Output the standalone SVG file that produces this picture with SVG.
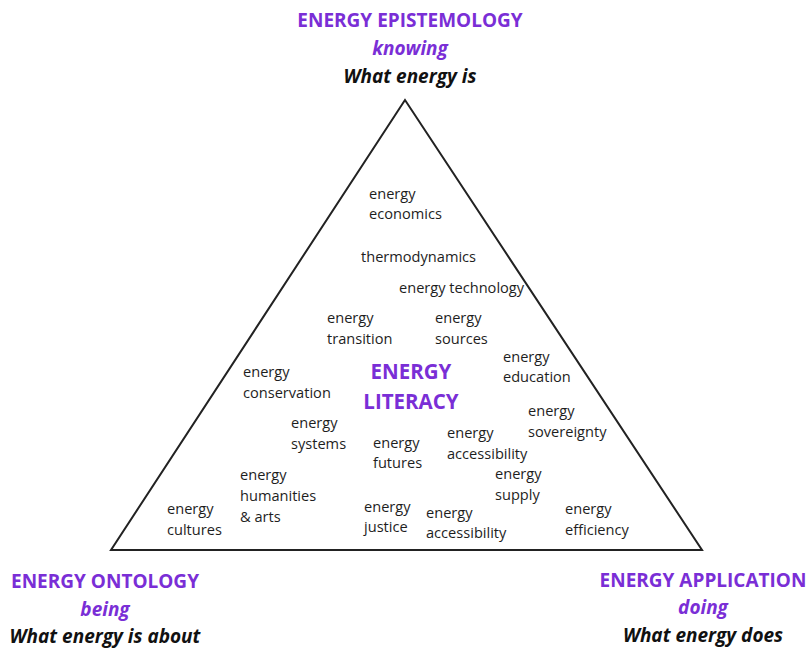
<svg xmlns="http://www.w3.org/2000/svg" width="810" height="648" viewBox="0 0 810 648">
  <style>
    .t { font-family: "Open Sans", "Noto Sans", sans-serif; font-size: 14.6px; fill: #1e1e1e; }
    .h { font-family: "Open Sans", "Noto Sans", sans-serif; font-size: 19px; font-weight: bold; fill: #7a2ed6; text-anchor: middle; }
    .hi { font-family: "Open Sans", "Noto Sans", sans-serif; font-size: 19px; font-weight: bold; font-style: italic; fill: #7a2ed6; text-anchor: middle; }
    .hs { font-family: "Open Sans", "Noto Sans", sans-serif; font-size: 19px; font-weight: bold; font-style: italic; fill: #111; text-anchor: middle; }
    .core { font-family: "Open Sans", "Noto Sans", sans-serif; font-size: 20.5px; font-weight: bold; fill: #7a2ed6; text-anchor: middle; }
  </style>
  <rect width="810" height="648" fill="#fff"/>

  <!-- triangle frame -->
  <g id="connectors">
    <polygon points="405,100 111,550 702,550" fill="none" stroke="#222" stroke-width="2"/>
  </g>

  <!-- corner headings -->
  <g id="epistemology">
    <text class="h" x="410" y="27">ENERGY EPISTEMOLOGY</text>
    <text class="hi" x="410" y="55">knowing</text>
    <text class="hs" x="410" y="83">What energy is</text>
  </g>
  <g id="ontology">
    <text class="h" x="105" y="588">ENERGY ONTOLOGY</text>
    <text class="hi" x="105" y="616">being</text>
    <text class="hs" x="105" y="643">What energy is about</text>
  </g>
  <g id="application">
    <text class="h" x="703" y="587">ENERGY APPLICATION</text>
    <text class="hi" x="703" y="614">doing</text>
    <text class="hs" x="703" y="642">What energy does</text>
  </g>

  <!-- centre -->
  <g id="literacy">
    <text class="core" x="411" y="379">ENERGY</text>
    <text class="core" x="411" y="409">LITERACY</text>
  </g>

  <!-- topics -->
  <g id="economics"><text class="t" x="369" y="199">energy</text><text class="t" x="369" y="219">economics</text></g>
  <g id="thermodynamics"><text class="t" x="361" y="262">thermodynamics</text></g>
  <g id="technology"><text class="t" x="399" y="293">energy technology</text></g>
  <g id="transition"><text class="t" x="327" y="323">energy</text><text class="t" x="327" y="344">transition</text></g>
  <g id="sources"><text class="t" x="435" y="323">energy</text><text class="t" x="435" y="344">sources</text></g>
  <g id="education"><text class="t" x="503" y="362">energy</text><text class="t" x="503" y="382">education</text></g>
  <g id="conservation"><text class="t" x="243" y="377">energy</text><text class="t" x="243" y="398">conservation</text></g>
  <g id="sovereignty"><text class="t" x="528" y="416">energy</text><text class="t" x="528" y="437">sovereignty</text></g>
  <g id="systems"><text class="t" x="291" y="428">energy</text><text class="t" x="291" y="449">systems</text></g>
  <g id="futures"><text class="t" x="373" y="448">energy</text><text class="t" x="373" y="468">futures</text></g>
  <g id="accessibility-1"><text class="t" x="447" y="438">energy</text><text class="t" x="447" y="459">accessibility</text></g>
  <g id="supply"><text class="t" x="495" y="479">energy</text><text class="t" x="495" y="500">supply</text></g>
  <g id="humanities"><text class="t" x="240" y="480">energy</text><text class="t" x="240" y="501">humanities</text><text class="t" x="240" y="522">&amp; arts</text></g>
  <g id="cultures"><text class="t" x="167" y="514">energy</text><text class="t" x="167" y="535">cultures</text></g>
  <g id="justice"><text class="t" x="364" y="512">energy</text><text class="t" x="364" y="532">justice</text></g>
  <g id="accessibility-2"><text class="t" x="426" y="518">energy</text><text class="t" x="426" y="538">accessibility</text></g>
  <g id="efficiency"><text class="t" x="565" y="514">energy</text><text class="t" x="565" y="535">efficiency</text></g>
</svg>
